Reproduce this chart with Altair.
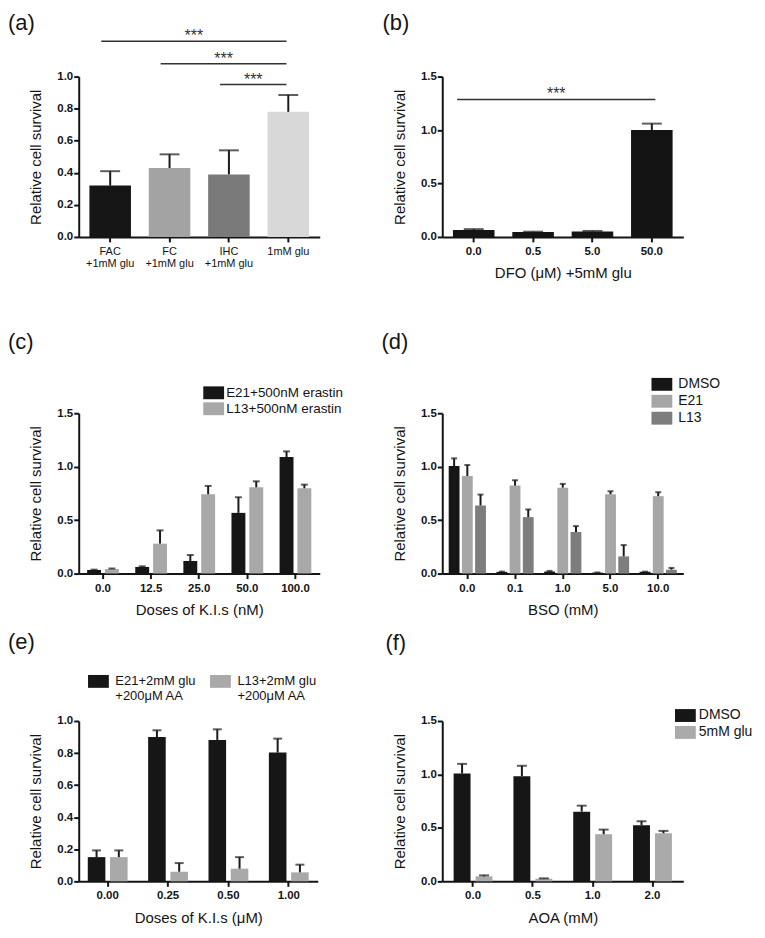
import altair as alt
import pandas as pd

FONT = "Liberation Sans"
PANEL_FONT = "Liberation Sans"
INK = "#141414"
ERR = "#1a1a1a"
SIG = "#333333"
W, H = 242, 161

# ---------------- data ----------------
# (a)
a_groups = ["FAC\n+1mM glu", "FC\n+1mM glu", "IHC\n+1mM glu", "1mM glu"]
a_values = [0.32, 0.43, 0.39, 0.78]
a_errors = [0.09, 0.085, 0.15, 0.105]
a_colors = ["#161616", "#a3a3a3", "#7a7a7a", "#d8d8d8"]
a_sig_from = [0, 1, 2]
a_sig_to = [3, 3, 3]
a_sig_level = [1.22, 1.08, 0.95]
a_sig_text = ["***", "***", "***"]

# (b)
b_doses = ["0.0", "0.5", "5.0", "50.0"]
b_values = [0.065, 0.045, 0.05, 1.0]
b_errors = [0.008, 0.004, 0.006, 0.06]
b_sig_from = [0]
b_sig_to = [3]
b_sig_level = [1.286]
b_sig_text = ["***"]

# (c)
c_doses = ["0.0", "12.5", "25.0", "50.0", "100.0"]
c_series = ["E21+500nM erastin", "L13+500nM erastin"]
c_colors = ["#161616", "#a8a8a8"]
c_e21 = [0.034, 0.062, 0.118, 0.568, 1.09]
c_e21_err = [0.003, 0.006, 0.056, 0.146, 0.053]
c_l13 = [0.043, 0.28, 0.742, 0.807, 0.798]
c_l13_err = [0.004, 0.124, 0.078, 0.056, 0.034]

# (d)
d_doses = ["0.0", "0.1", "1.0", "5.0", "10.0"]
d_series = ["DMSO", "E21", "L13"]
d_colors = ["#161616", "#a6a6a6", "#7d7d7d"]
d_dmso = [1.006, 0.016, 0.019, 0.009, 0.016]
d_dmso_err = [0.072, 0.003, 0.006, 0.001, 0.002]
d_e21 = [0.913, 0.823, 0.804, 0.742, 0.724]
d_e21_err = [0.103, 0.05, 0.035, 0.028, 0.037]
d_l13 = [0.637, 0.528, 0.388, 0.161, 0.037]
d_l13_err = [0.102, 0.072, 0.056, 0.106, 0.016]

# (e)
e_doses = ["0.00", "0.25", "0.50", "1.00"]
e_series = ["E21+2mM glu\n+200\u03bcM AA", "L13+2mM glu\n+200\u03bcM AA"]
e_colors = ["#161616", "#a9a9a9"]
e_e21 = [0.151, 0.9, 0.882, 0.803]
e_e21_err = [0.042, 0.042, 0.066, 0.087]
e_l13 = [0.151, 0.06, 0.079, 0.056]
e_l13_err = [0.042, 0.054, 0.072, 0.048]

# (f)
f_doses = ["0.0", "0.5", "1.0", "2.0"]
f_series = ["DMSO", "5mM glu"]
f_colors = ["#161616", "#aaaaaa"]
f_dmso = [1.009, 0.984, 0.652, 0.525]
f_dmso_err = [0.09, 0.097, 0.056, 0.037]
f_glu = [0.047, 0.025, 0.441, 0.45]
f_glu_err = [0.009, 0.003, 0.043, 0.022]

TICKS_10 = [0, 0.2, 0.4, 0.6, 0.8, 1.0]
TICKS_15 = [0, 0.5, 1.0, 1.5]

RECT = "M-1.1,-0.68H1.1V0.68H-1.1Z"


# ---------------- helpers ----------------
def y_enc(field, ymax, ticks):
    return alt.Y(
        f"{field}:Q",
        scale=alt.Scale(domain=[0, ymax], nice=False, zero=True),
        axis=alt.Axis(values=ticks, format=".1f", title="Relative cell survival",
                      titleX=-38, titleY=H / 2, titleAngle=270,
                      titleAlign="center", titleBaseline="alphabetic"),
    )


def x_axis(width, title):
    if title is None:
        return alt.Axis(title=None)
    return alt.Axis(title=title, titleX=width / 2, titleY=41,
                    titleAlign="center", titleBaseline="alphabetic")


def panel_title(text, dx, offset, dy=25.5):
    return alt.TitleParams(text=text, anchor="start", frame="group", dx=dx, dy=dy,
                           offset=offset, baseline="alphabetic", font=PANEL_FONT,
                           fontSize=22, fontWeight="normal", color=INK)


def make_legend(x, y, offset, size, horizontal=False):
    kw = dict(title=None, orient="none", legendX=x, legendY=y,
              direction="horizontal" if horizontal else "vertical",
              symbolType=RECT, symbolSize=361, symbolStrokeWidth=0,
              symbolOpacity=1, labelFont=FONT, labelFontSize=size,
              labelColor=INK, labelOffset=offset, padding=0, rowPadding=0,
              columnPadding=13.5)
    if horizontal:
        kw["labelExpr"] = "split(datum.label, '\\n')"
    return alt.Legend(**kw)


def sig_layers(frm, to, level, text, start_shift, end_shift, n, pi, po, ymax, ticks):
    lo = -(po + (1 - pi) / 2)
    hi = n - 0.5 - pi / 2 + po
    df = pd.DataFrame({"frm": frm, "to": to, "level": level, "txt": text})
    base = alt.Chart(df).transform_calculate(
        x0=f"datum.frm + ({start_shift})", x1=f"datum.to + ({end_shift})"
    ).transform_calculate(xm="(datum.x0 + datum.x1) / 2")
    xs = alt.Scale(domain=[lo, hi], nice=False, zero=False)
    lines = base.mark_rule(color=SIG, strokeWidth=1.5).encode(
        x=alt.X("x0:Q", scale=xs, axis=None), x2="x1:Q",
        y=y_enc("level", ymax, ticks))
    stars = base.mark_text(font=FONT, fontSize=16, color=SIG, baseline="alphabetic",
                           align="center").encode(
        x=alt.X("xm:Q", scale=xs, axis=None), y=y_enc("level", ymax, ticks),
        text="txt:N")
    return [lines, stars]


def simple_panel(cats, values, errors, colors, ymax, ticks, xtitle, cap, pi, po,
                 title, sig, label_axis):
    df = pd.DataFrame({"cat": cats, "value": values,
                       "upper": [v + e for v, e in zip(values, errors)]})
    x = alt.X("cat:N", sort=cats, title=xtitle,
              scale=alt.Scale(paddingInner=pi, paddingOuter=po), axis=label_axis)
    base = alt.Chart(df)
    if isinstance(colors, list):
        bars = base.mark_bar().encode(
            x=x, y=y_enc("value", ymax, ticks),
            color=alt.Color("cat:N", sort=cats,
                            scale=alt.Scale(domain=cats, range=colors), legend=None))
    else:
        bars = base.mark_bar(color=colors).encode(x=x, y=y_enc("value", ymax, ticks))
    err = base.mark_rule(color=ERR, strokeWidth=2).encode(
        x=x, y=y_enc("value", ymax, ticks), y2="upper:Q")
    caps = base.mark_tick(color=ERR, thickness=2, size=cap).encode(
        x=x, y=y_enc("upper", ymax, ticks))
    inner = alt.layer(bars, err, caps)
    layers = sig_layers(*sig, len(cats), pi, po, ymax, ticks)
    return alt.layer(inner, *layers).resolve_scale(x="independent").properties(
        width=W, height=H, title=title)


def grouped_panel(doses, series, vals, errs, colors, ymax, ticks, xtitle, width,
                  pi, po, opi, cap, legend, title):
    rows = []
    for s, vv, ee in zip(series, vals, errs):
        for d, v, e in zip(doses, vv, ee):
            rows.append({"dose": d, "series": s, "value": v, "upper": v + e})
    df = pd.DataFrame(rows)
    x = alt.X("dose:N", sort=doses, scale=alt.Scale(paddingInner=pi, paddingOuter=po),
              axis=x_axis(width, xtitle))
    xo = alt.XOffset("series:N", sort=series,
                     scale=alt.Scale(paddingInner=opi, paddingOuter=0))
    base = alt.Chart(df)
    bars = base.mark_bar().encode(
        x=x, xOffset=xo, y=y_enc("value", ymax, ticks),
        color=alt.Color("series:N", sort=series,
                        scale=alt.Scale(domain=series, range=colors), legend=legend))
    err = base.mark_rule(color=ERR, strokeWidth=2).encode(
        x=x, xOffset=xo, y=y_enc("value", ymax, ticks), y2="upper:Q")
    caps = base.mark_tick(color=ERR, thickness=2, size=cap).encode(
        x=x, xOffset=xo, y=y_enc("upper", ymax, ticks))
    return alt.layer(bars, err, caps).properties(width=width, height=H, title=title)


def spacer(h):
    return alt.Chart(pd.DataFrame({"s": [0]})).mark_point(opacity=0).encode(
        x=alt.value(0), y=alt.value(0)).properties(width=10, height=h)


# ---------------- panels ----------------
axis_a = alt.Axis(title=None, labelExpr="split(datum.label, '\\n')",
                  labelFontWeight="normal", labelFontSize=11, labelLineHeight=12)
pa = simple_panel(a_groups, a_values, a_errors, a_colors, 1.0, TICKS_10, None, 20,
                  0.3, 0.18, panel_title("(a)", -71, 1.6),
                  (a_sig_from, a_sig_to, a_sig_level, a_sig_text, -0.15, -0.03),
                  axis_a)

pb = simple_panel(b_doses, b_values, b_errors, INK, 1.5, TICKS_15, "DFO (\u03bcM) +5mM glu",
                  20, 0.3, 0.18, panel_title("(b)", -60, 44),
                  (b_sig_from, b_sig_to, b_sig_level, b_sig_text, -0.28, 0.06),
                  x_axis(W, "DFO (\u03bcM) +5mM glu"))

pc = grouped_panel(c_doses, c_series, [c_e21, c_l13], [c_e21_err, c_l13_err], c_colors,
                   1.5, TICKS_15, "Doses of K.I.s (nM)", W, 0.34, 0.175, 0.22, 7,
                   make_legend(126, -30, 3, 13.5), panel_title("(c)", -71, 38))

pdd = grouped_panel(d_doses, d_series, [d_dmso, d_e21, d_l13],
                    [d_dmso_err, d_e21_err, d_l13_err], d_colors,
                    1.5, TICKS_15, "BSO (mM)", W, 0.22, 0.135, 0.18, 6,
                    make_legend(211, -38.5, 7, 14), panel_title("(d)", -61, 29.5))

pe = grouped_panel(e_doses, e_series, [e_e21, e_l13], [e_e21_err, e_l13_err], e_colors,
                   1.0, TICKS_10, "Doses of K.I.s (\u03bcM)", 240, 0.34, 0.15, 0.21, 9,
                   make_legend(10.3, -49.5, 7.5, 13, horizontal=True),
                   panel_title("(e)", -71, 26))

pf = grouped_panel(f_doses, f_series, [f_dmso, f_glu], [f_dmso_err, f_glu_err], f_colors,
                   1.5, TICKS_15, "AOA (mM)", W, 0.35, 0.19, 0.23, 10,
                   make_legend(234.6, -15, 4, 14), panel_title("(f)", -57, 59.4))

chart = alt.concat(
    pa, pb, spacer(177), spacer(177), pc, pdd, spacer(148), spacer(148), pe, pf,
    columns=2, spacing={"row": 0, "column": 123}, bounds="flush", align="each",
).resolve_scale(
    x="independent", y="independent", color="independent", xOffset="independent"
).properties(
    padding={"left": 0, "top": 2, "right": 4, "bottom": 4}
).configure(
    font=FONT
).configure_view(
    stroke=None
).configure_axis(
    domainColor=INK, domainWidth=2, tickColor=INK, tickWidth=2, tickSize=5,
    labelFont=FONT, labelFontSize=11.5, labelFontWeight="bold", labelColor=INK,
    titleFont=FONT, titleFontSize=15, titleFontWeight="normal", titleColor=INK,
    grid=False, zindex=1, labelOverlap=False,
).configure_axisX(
    labelAngle=0, labelBaseline="alphabetic", labelPadding=12.5
).configure_axisY(
    labelPadding=1
)

chart.save("out.html", embed_options={"renderer": "svg", "actions": False})
